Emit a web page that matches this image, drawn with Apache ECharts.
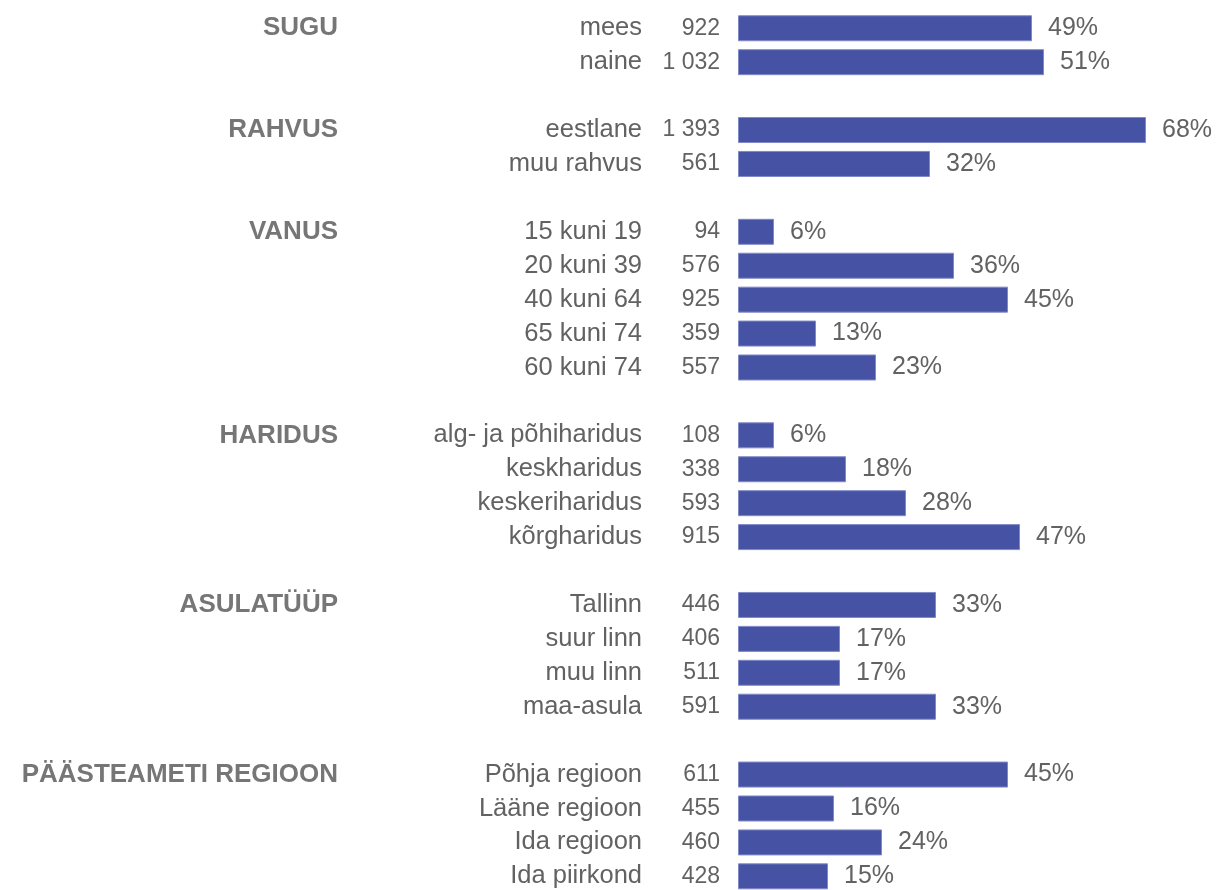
<!DOCTYPE html>
<html lang="et">
<head>
<meta charset="utf-8">
<title>Vastajate profiil</title>
<script src="https://cdn.jsdelivr.net/npm/echarts@6/dist/echarts.min.js"></script>
<style>
  html, body { margin: 0; padding: 0; background: #ffffff; }
  #chart { width: 1220px; height: 890px; }
</style>
</head>
<body>
<div id="chart"></div>
<script>
// Background groups of respondents
const groupNames = ['SUGU', 'RAHVUS', 'VANUS', 'HARIDUS', 'ASULATÜÜP', 'PÄÄSTEAMETI REGIOON'];

const categories = [
  ['mees', 'naine'],
  ['eestlane', 'muu rahvus'],
  ['15 kuni 19', '20 kuni 39', '40 kuni 64', '65 kuni 74', '60 kuni 74'],
  ['alg- ja põhiharidus', 'keskharidus', 'keskeriharidus', 'kõrgharidus'],
  ['Tallinn', 'suur linn', 'muu linn', 'maa-asula'],
  ['Põhja regioon', 'Lääne regioon', 'Ida regioon', 'Ida piirkond']
];

// Number of respondents in each subgroup
const counts = [
  [922, 1032],
  [1393, 561],
  [94, 576, 925, 359, 557],
  [108, 338, 593, 915],
  [446, 406, 511, 591],
  [611, 455, 460, 428]
];

// Weighted share of each subgroup, %
const shares = [
  [49, 51],
  [68, 32],
  [6, 36, 45, 13, 23],
  [6, 18, 28, 47],
  [33, 17, 17, 33],
  [45, 16, 24, 15]
];

// Flatten into rows, with an empty spacer row between groups
const rowGroup = [], rowCategory = [], rowCount = [], rowShare = [];
groupNames.forEach((g, gi) => {
  if (gi > 0) {
    rowGroup.push(''); rowCategory.push(''); rowCount.push(''); rowShare.push('-');
  }
  categories[gi].forEach((c, ci) => {
    rowGroup.push(ci === 0 ? g : '');
    rowCategory.push(c);
    rowCount.push(String(counts[gi][ci]).replace(/\B(?=(\d{3})+(?!\d))/g, ' '));
    rowShare.push(shares[gi][ci]);
  });
});

const font = '"Liberation Sans", Arial, sans-serif';
const gray = '#626262';

const baseY = {
  type: 'category',
  position: 'left',
  inverse: true,
  axisLine: { show: false },
  axisTick: { show: false },
  splitLine: { show: false }
};

const chart = echarts.init(document.getElementById('chart'), null, { renderer: 'canvas' });
chart.setOption({
  animation: false,
  backgroundColor: '#ffffff',
  grid: {
    left: 738, top: 11.3, width: 480, height: 882,
    containLabel: false, outerBoundsMode: 'none'
  },
  xAxis: {
    type: 'value', min: 0, max: 80, show: false
  },
  yAxis: [
    Object.assign({}, baseY, {
      data: rowCategory,
      axisLabel: { interval: 0, margin: 96, fontSize: 25.5, color: gray, fontFamily: font }
    }),
    Object.assign({}, baseY, {
      data: rowCount,
      axisLabel: { interval: 0, margin: 18, fontSize: 23, color: gray, fontFamily: font }
    }),
    Object.assign({}, baseY, {
      data: rowGroup,
      axisLabel: {
        interval: 0, margin: 400, fontSize: 26, fontWeight: 'bold',
        color: '#767676', fontFamily: font, padding: [0, 0, 8, 0]
      }
    })
  ],
  series: [{
    type: 'bar',
    yAxisIndex: 0,
    data: rowShare,
    barWidth: 26,
    itemStyle: { color: '#4653A4', borderColor: '#8089C8', borderWidth: 1 },
    label: {
      show: true, position: 'right', distance: 16,
      formatter: '{c}%', fontSize: 25, color: gray, fontFamily: font
    }
  }]
});
</script>
</body>
</html>
